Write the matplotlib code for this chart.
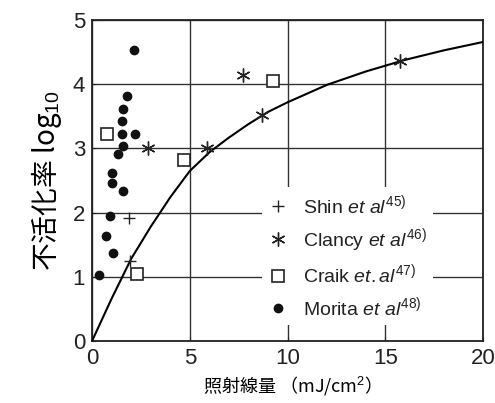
import numpy as np
import matplotlib
matplotlib.use("Agg")
import matplotlib.pyplot as plt

plt.rcParams['font.family'] = ['Liberation Sans', 'Noto Sans CJK JP', 'DejaVu Sans']
plt.rcParams['mathtext.fontset'] = 'custom'
plt.rcParams['mathtext.rm'] = 'Liberation Sans'
plt.rcParams['mathtext.it'] = 'Liberation Sans:italic'

# data
shin_x = [1.91, 1.94]
shin_y = [1.91, 1.25]
clancy_x = [2.88, 5.87, 7.74, 8.68, 15.75]
clancy_y = [3.01, 3.01, 4.14, 3.52, 4.36]
craik_x = [0.75, 4.71, 9.24, 2.29]
craik_y = [3.22, 2.82, 4.05, 1.04]
morita_x = [2.16, 1.77, 1.60, 1.55, 1.52, 2.20, 1.57, 1.35, 1.04, 1.04, 1.60, 0.92, 0.72, 1.09, 0.37]
morita_y = [4.53, 3.82, 3.62, 3.43, 3.22, 3.22, 3.04, 2.92, 2.62, 2.46, 2.34, 1.94, 1.63, 1.37, 1.03]
curve_x = [0, 1, 2, 3, 4, 5, 6, 7, 8, 9, 10, 12, 14, 16, 18, 20]
curve_y = [0, 0.66, 1.28, 1.78, 2.24, 2.65, 2.94, 3.17, 3.38, 3.57, 3.72, 3.99, 4.2, 4.38, 4.53, 4.66]

fig = plt.figure(figsize=(4.95, 4.03), dpi=100)
ax = fig.add_axes([0.186, 0.154, 0.79, 0.796])

ax.grid(True, color='#333333', linewidth=1.0)
ax.set_axisbelow(True)

ax.plot(curve_x, curve_y, color='black', linewidth=1.5, zorder=3)
ax.plot(shin_x, shin_y, linestyle='none', marker='+', color='#222222', markersize=8,
        markeredgewidth=1.0, label=r'Shin $\it{et\ al}^{45)}$', zorder=4)
ax.plot(clancy_x, clancy_y, linestyle='none', marker=(6, 2, 0), color='#222222', markersize=10,
        markeredgewidth=1.0, label=r'Clancy $\it{et\ al}^{46)}$', zorder=4)
ax.plot(craik_x, craik_y, linestyle='none', marker='s', markerfacecolor='white', markeredgecolor='#222222',
        markersize=8, markeredgewidth=1.2, label=r'Craik $\it{et.al}^{47)}$', zorder=4)
ax.plot(morita_x, morita_y, linestyle='none', marker='o', color='#111111', markersize=6,
        label=r'Morita $\it{et\ al}^{48)}$', zorder=4)

ax.set_xlim(0, 20)
ax.set_ylim(0, 5)
ax.set_xticks([0, 5, 10, 15, 20])
ax.set_yticks([0, 1, 2, 3, 4, 5])
ax.tick_params(direction='in', length=3, labelsize=16, colors='#222222', pad=5)
for s in ax.spines.values():
    s.set_linewidth(1.3)
    s.set_color('#222222')

ax.set_xlabel('照射線量 （mJ/cm$^2$）', fontsize=13, family=['Noto Sans CJK JP', 'DejaVu Sans'], labelpad=4)
ax.set_ylabel('不活化率 log$_{10}$', fontsize=20, family=['Noto Sans CJK JP', 'DejaVu Sans'], labelpad=6)

leg = ax.legend(loc='lower left', bbox_to_anchor=(0.41, 0.02), fontsize=14, frameon=True,
                facecolor='white', edgecolor='none', framealpha=1.0, handletextpad=0.8,
                labelspacing=0.45, handlelength=1.0, borderpad=0.3)
for t in leg.get_texts():
    t.set_color('#222222')

fig.savefig('out.png', dpi=100, facecolor='white')
